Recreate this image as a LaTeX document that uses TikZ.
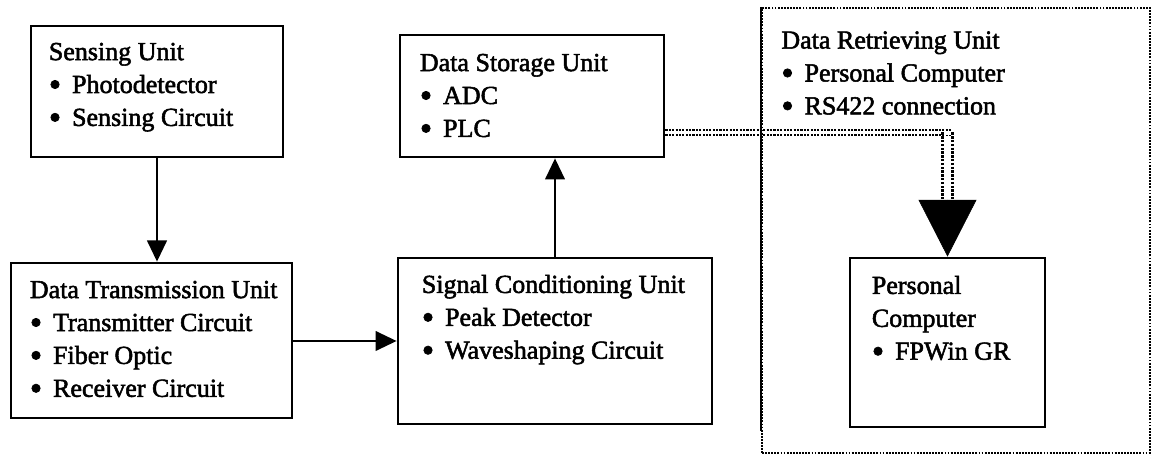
\documentclass[tikz,border=0pt]{standalone}
\usepackage{fontspec}
\setmainfont{Liberation Serif}[FakeBold=2]
\usetikzlibrary{arrows.meta,fit}
\newcommand{\itm}{\makebox[0.58cm][l]{\raisebox{-0.12em}{\fontsize{25}{0}\selectfont\textbullet}}}
\tikzset{
  unitbox/.style={rectangle,draw,line width=2pt,inner sep=0pt},
  retrbox/.style={rectangle,draw,line width=1.3pt,dash pattern=on 1.3pt off 0.9pt,inner sep=0pt},
  unittext/.style={anchor=north west,align=left,inner sep=0pt,font=\fontsize{18.5}{23.4}\selectfont},
  conn/.style={line width=1.4pt,-{Triangle[width=14pt,length=15pt]}},
  dbl/.style={draw,line width=1.5pt,double distance=2pt,dash pattern=on 1.5pt off 0.9pt},
  dblwide/.style={draw,line width=1.7pt,double distance=5.5pt,dash pattern=on 1.7pt off 1pt},
  bigconn/.style={line width=0.4pt,-{Triangle[width=1.45cm,length=1.42cm]}}
}
\begin{document}
\begin{tikzpicture}[x=0.025cm,y=-0.025cm]
\useasboundingbox (0,0) rectangle (1152,457);
\node[retrbox,fit={(762,8) (1150,453)}] (retr) {};
\node[unitbox,fit={(31,26) (283,157)}] (sense) {};
\node[unitbox,fit={(11,263) (292,418)}] (trans) {};
\node[unitbox,fit={(398,258) (712,424)}] (signal) {};
\node[unitbox,fit={(400,35) (664,157)}] (store) {};
\node[unitbox,fit={(850,258) (1045,427)}] (pc) {};

\node[unittext] (senseT) at ([shift={(19,18)}]sense.north west) {Sensing Unit\\\itm Photodetector\\\itm Sensing Circuit};
\node[unittext] (transT) at ([shift={(20,19)}]trans.north west) {Data Transmission Unit\\\itm Transmitter Circuit\\\itm Fiber Optic\\\itm Receiver Circuit};
\node[unittext] (signalT) at ([shift={(25,18)}]signal.north west) {Signal Conditioning Unit\\\itm Peak Detector\\\itm Waveshaping Circuit};
\node[unittext] (storeT) at ([shift={(21,20)}]store.north west) {Data Storage Unit\\\itm ADC\\\itm PLC};
\node[unittext] (pcT) at ([shift={(23,19)}]pc.north west) {Personal\\Computer\\\itm FPWin GR};
\node[unittext] (retrT) at ([shift={(20,24)}]retr.north west) {Data Retrieving Unit\\\itm Personal Computer\\\itm RS422 connection};

\draw[conn] (sense.south) -- (sense.south |- trans.north);
\draw[conn] (trans.east |- signal.west) -- (signal.west);
\draw[conn] (signal.north) -- (signal.north |- store.south);

\coordinate (tipbase) at ([shift={(0,-57)}]pc.north);
\coordinate (bend) at ([shift={(0,-26)}]store.south east -| tipbase);
\draw[dbl] ([shift={(0,-26)}]store.south east) -- ([shift={(4,0)}]bend);
\draw[dblwide] (bend) -- (tipbase);
\draw[bigconn] (tipbase) -- (pc.north);
\draw[line width=1.6pt] (retr.north west) -- ([shift={(0,-23)}]retr.south west);
\end{tikzpicture}
\end{document}
